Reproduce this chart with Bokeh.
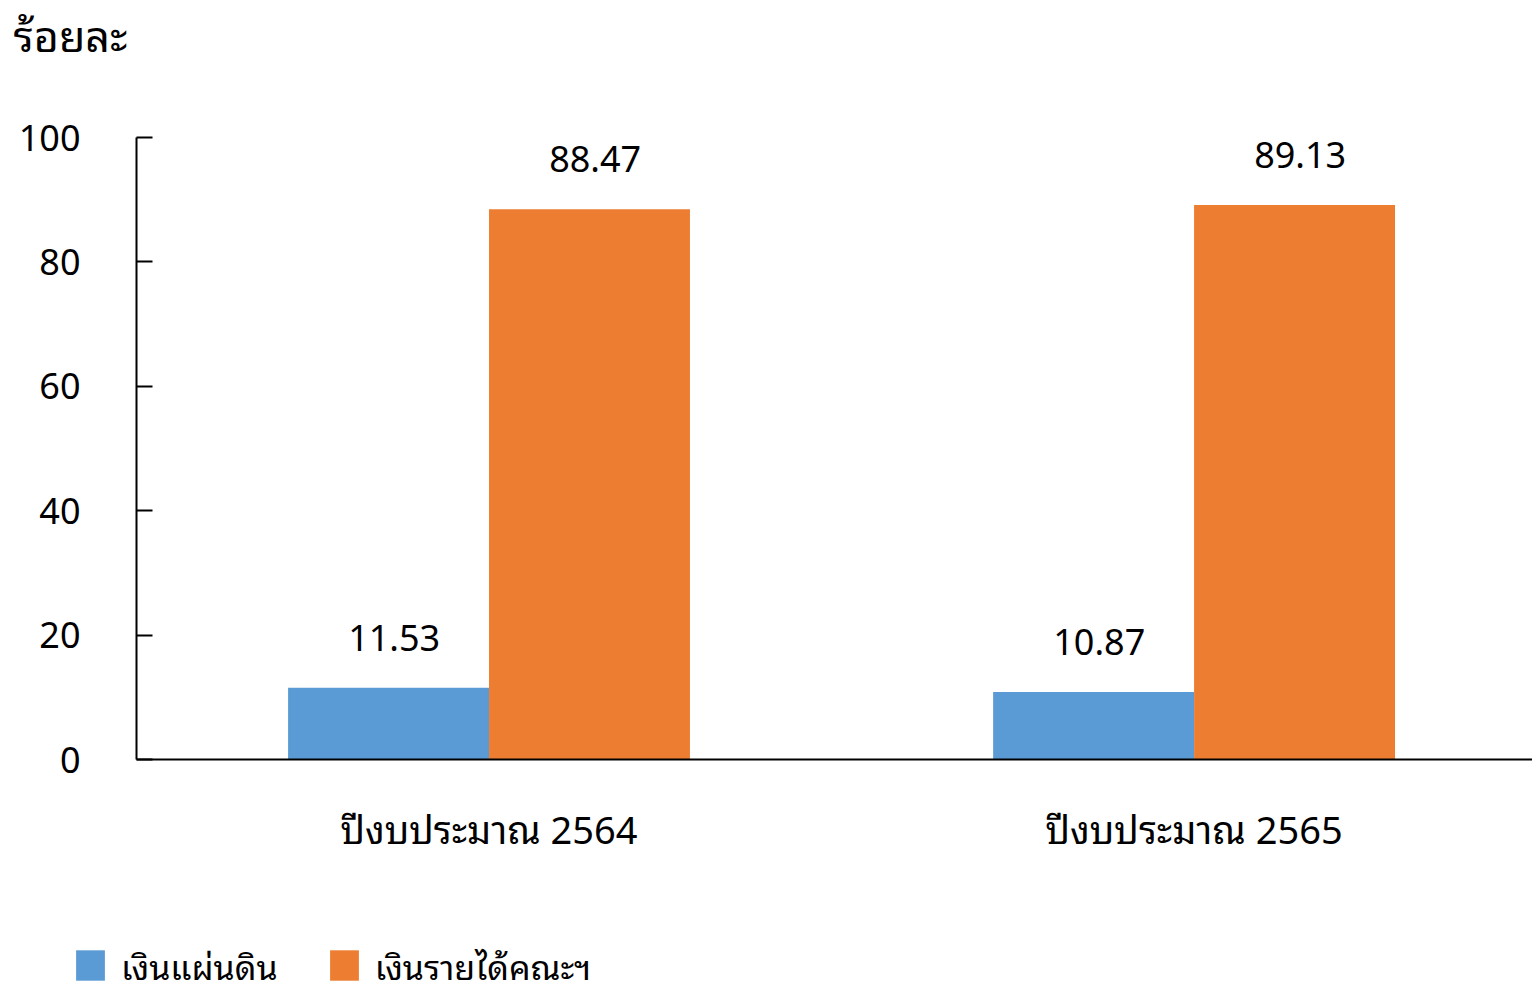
from bokeh.plotting import figure
from bokeh.layouts import column
from bokeh.models import (ColumnDataSource, FixedTicker, Range1d, Legend, LegendItem,
                          LabelSet, Label, Plot)
from bokeh.transform import dodge
from bokeh.core.properties import value
from bokeh.embed import file_html
from bokeh.resources import INLINE

categories = ["ปีงบประมาณ 2564", "ปีงบประมาณ 2565"]
series_names = ["เงินแผ่นดิน", "เงินรายได้คณะฯ"]
land_values = [11.53, 10.87]
income_values = [88.47, 89.13]
y_ticks = [0, 20, 40, 60, 80, 100]
y_title = "ร้อยละ"

FONT = "'Noto Sans', 'Noto Sans Thai Looped', 'Noto Sans Thai'"
BLUE = "#5B9BD5"
ORANGE = "#ED7D31"

HAS_FA = "frame_align" in Plot.properties()

xpos = [i + 0.5 for i in range(len(categories))]
src = ColumnDataSource(dict(
    x=xpos,
    land=land_values,
    income=income_values,
    land_lbl=[f"{v:.2f}" for v in land_values],
    income_lbl=[f"{v:.2f}" for v in income_values],
))

TOP_H = 97 if HAS_FA else 0
LEG_H = 60
MAIN_H = 990 - TOP_H - LEG_H
FRAME_TOP = 137 - TOP_H
FRAME_BOTTOM = 759 - TOP_H

p = figure(width=1532, height=MAIN_H, output_backend="svg", toolbar_location=None,
           x_range=Range1d(0, 1.98), y_range=Range1d(0, 100),
           min_border_left=136, min_border_right=0, min_border_top=FRAME_TOP,
           min_border_bottom=MAIN_H - FRAME_BOTTOM)
p.outline_line_color = None
p.grid.grid_line_color = None
p.background_fill_color = "white"

bw = 0.285
r1 = p.vbar(x=dodge("x", -bw / 2, range=p.x_range), top="land", width=bw, source=src,
            fill_color=BLUE, line_color=None)
r2 = p.vbar(x=dodge("x", bw / 2, range=p.x_range), top="income", width=bw, source=src,
            fill_color=ORANGE, line_color=None)

for col, lbl, off in (("land", "land_lbl", -bw / 2), ("income", "income_lbl", bw / 2)):
    ls = LabelSet(x=dodge("x", off + 0.008, range=p.x_range), y=col, text=lbl, source=src,
                  y_offset=37, text_align="center", text_baseline="alphabetic",
                  text_font=value(FONT), text_font_size=value("36px"),
                  text_color=value("#000000"))
    p.add_layout(ls)

# y axis
p.yaxis.ticker = FixedTicker(ticks=y_ticks)
p.yaxis.major_tick_in = 16
p.yaxis.major_tick_out = 0
p.yaxis.minor_tick_line_color = None
p.yaxis.axis_line_width = 2
p.yaxis.major_tick_line_width = 2
p.yaxis.axis_line_color = "#000000"
p.yaxis.major_tick_line_color = "#000000"
p.yaxis.major_label_text_font = FONT
p.yaxis.major_label_text_font_size = "36px"
p.yaxis.major_label_text_color = "#000000"
p.yaxis.major_label_standoff = 56

# x axis
p.xaxis.ticker = FixedTicker(ticks=xpos)
p.xaxis.major_label_overrides = {x: c for x, c in zip(xpos, categories)}
p.xaxis.major_tick_line_color = None
p.xaxis.minor_tick_line_color = None
p.xaxis.axis_line_width = 2
p.xaxis.axis_line_color = "#000000"
p.xaxis.major_label_text_font = FONT
p.xaxis.major_label_text_font_size = "38px"
p.xaxis.major_label_text_color = "#000000"
p.xaxis.major_label_standoff = 37

children = []
if HAS_FA:
    p.frame_align = False
    top = figure(width=1532, height=TOP_H, output_backend="svg", toolbar_location=None,
                 x_range=Range1d(0, 1), y_range=Range1d(0, 1),
                 x_axis_location=None, y_axis_location=None, min_border=0)
    top.frame_align = False
    top.grid.grid_line_color = None
    top.outline_line_color = None
    top.add_layout(Label(x=13, y=TOP_H - 35, x_units="screen", y_units="screen",
                         text=y_title, text_font=FONT, text_font_size="43px",
                         text_color="#000000", text_baseline="alphabetic"))
    children.append(top)
else:
    p.title.text = y_title
    p.title.text_font = FONT
    p.title.text_font_size = "42px"
    p.title.text_font_style = "normal"
    p.title.text_color = "#000000"
    p.title.align = "left"
    p.title.offset = -121
    p.title.standoff = 77
children.append(p)

# legend strip below the chart
pl = figure(width=1532, height=LEG_H, output_backend="svg", toolbar_location=None,
            x_range=Range1d(0, 1), y_range=Range1d(0, 1),
            x_axis_location=None, y_axis_location=None, min_border=0)
pl.grid.grid_line_color = None
pl.outline_line_color = None
far = ColumnDataSource(dict(x=[-5], top=[-5]))
d1 = pl.vbar(x="x", top="top", width=0.1, source=far, fill_color=BLUE, line_color=None)
d2 = pl.vbar(x="x", top="top", width=0.1, source=far, fill_color=ORANGE, line_color=None)

if HAS_FA:
    pl.frame_align = False
    leg_loc = (72, -2)
else:
    leg_loc = (0, -2)

legend = Legend(items=[LegendItem(label=series_names[0], renderers=[d1]),
                       LegendItem(label=series_names[1], renderers=[d2])],
                orientation="horizontal", location=leg_loc,
                glyph_width=36, glyph_height=38, label_standoff=13, spacing=48,
                padding=0, margin=0, border_line_alpha=0, background_fill_alpha=0,
                label_text_font=FONT, label_text_font_size="34px", label_text_color="#000000")
pl.add_layout(legend, "center")
children.append(pl)

layout = column(*children, spacing=0)
open("out.html", "w").write(file_html(layout, INLINE))
